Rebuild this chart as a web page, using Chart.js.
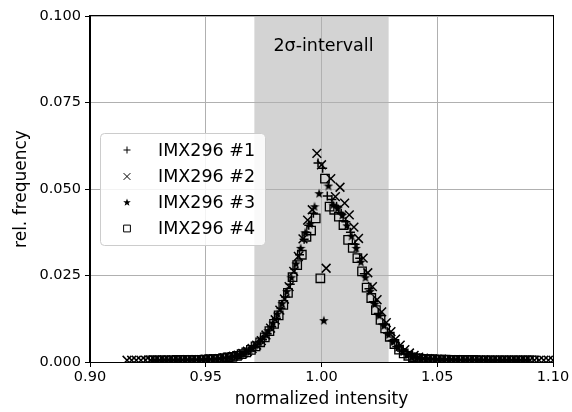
<!DOCTYPE html>
<html>
<head>
<meta charset="utf-8">
<script src="https://cdn.jsdelivr.net/npm/chart.js@4.4.1/dist/chart.umd.min.js"></script>
<style>
  html, body { margin: 0; padding: 0; background: #fff; }
  #wrap { width: 572px; height: 412px; }
</style>
</head>
<body>
<div id="wrap"><canvas id="myChart" width="572" height="412"></canvas></div>
<script>
// values
const seriesNames = ["IMX296 #1", "IMX296 #2", "IMX296 #3", "IMX296 #4"];
const xTicks = [0.90, 0.95, 1.00, 1.05, 1.10];
const yTicks = [0.000, 0.025, 0.050, 0.075, 0.100];
const sigmaBand = [0.971, 1.029];
const bandLabel = "2σ-intervall";

const x1 = [0.9285,0.9305,0.9325,0.9345,0.9365,0.9385,0.9405,0.9425,0.9445,0.9465,
    0.9485,0.9505,0.9525,0.9545,0.9565,0.9585,0.9605,0.9625,0.9645,0.9665,
    0.9685,0.9705,0.9725,0.9745,0.9765,0.9785,0.9805,0.9825,0.9845,0.9865,
    0.9885,0.9905,0.9925,0.9945,0.9965,0.9985,1.0005,1.0025,1.0045,1.0065,
    1.0085,1.0105,1.0125,1.0145,1.0165,1.0185,1.0205,1.0225,1.0245,1.0265,
    1.0285,1.0305,1.0325,1.0345,1.0365,1.0385,1.0405,1.0425,1.0445,1.0465,
    1.0485,1.0505,1.0525,1.0545,1.0565,1.0585,1.0605,1.0625,1.0645,1.0665,
    1.0685,1.0705,1.0725,1.0745,1.0765,1.0785,1.0805,1.0825,1.0845,1.0865,1.0885];
const y1 = [0.0005,0.0005,0.0005,0.0005,0.0005,0.0006,0.0006,0.0006,0.0006,0.0006,
    0.0007,0.0008,0.0008,0.0009,0.0010,0.0012,0.0014,0.0017,0.0021,0.0026,
    0.0032,0.0041,0.0052,0.0065,0.0082,0.0102,0.0126,0.0155,0.0188,0.0225,
    0.0268,0.0310,0.0355,0.0395,0.0430,0.0575,0.0560,0.0480,0.0470,0.0450,
    0.0430,0.0405,0.0375,0.0340,0.0300,0.0255,0.0212,0.0174,0.0140,0.0110,
    0.0084,0.0062,0.0045,0.0032,0.0023,0.0017,0.0013,0.0010,0.0009,0.0008,
    0.0008,0.0007,0.0007,0.0007,0.0006,0.0006,0.0006,0.0006,0.0006,0.0006,
    0.0005,0.0005,0.0005,0.0005,0.0005,0.0005,0.0005,0.0005,0.0005,0.0005,0.0005];

const x2 = [0.916,0.918,0.920,0.922,0.924,0.926,0.928,0.930,0.932,0.934,
    0.936,0.938,0.940,0.942,0.944,0.946,0.948,0.950,0.952,0.954,
    0.956,0.958,0.960,0.962,0.964,0.966,0.968,0.970,0.972,0.974,
    0.976,0.978,0.980,0.982,0.984,0.986,0.988,0.990,0.992,0.994,
    0.996,0.998,1.000,1.002,1.004,1.006,1.008,1.010,1.012,1.014,
    1.016,1.018,1.020,1.022,1.024,1.026,1.028,1.030,1.032,1.034,
    1.036,1.038,1.040,1.042,1.044,1.046,1.048,1.050,1.052,1.054,
    1.056,1.058,1.060,1.062,1.064,1.066,1.068,1.070,1.072,1.074,
    1.076,1.078,1.080,1.082,1.084,1.086,1.088,1.090,1.092,1.094,
    1.096,1.098,1.100];
const y2 = [0.0005,0.0005,0.0005,0.0005,0.0005,0.0005,0.0005,0.0005,0.0006,0.0006,
    0.0006,0.0006,0.0006,0.0007,0.0007,0.0007,0.0007,0.0008,0.0008,0.0009,
    0.0010,0.0012,0.0014,0.0017,0.0020,0.0025,0.0031,0.0039,0.0049,0.0062,
    0.0078,0.0098,0.0122,0.0150,0.0182,0.0218,0.0262,0.0305,0.0356,0.0410,
    0.0440,0.0603,0.0570,0.0271,0.0530,0.0478,0.0505,0.0459,0.0425,0.0390,
    0.0357,0.0300,0.0258,0.0218,0.0180,0.0145,0.0114,0.0088,0.0066,0.0049,
    0.0036,0.0026,0.0019,0.0014,0.0011,0.0010,0.0009,0.0008,0.0008,0.0007,
    0.0007,0.0007,0.0006,0.0006,0.0006,0.0006,0.0006,0.0006,0.0005,0.0005,
    0.0005,0.0005,0.0005,0.0005,0.0005,0.0005,0.0005,0.0005,0.0005,0.0005,
    0.0005,0.0005,0.0005];

const x3 = [0.927,0.929,0.931,0.933,0.935,0.937,0.939,0.941,0.943,0.945,0.947,
    0.949,0.951,0.953,0.955,0.957,0.959,0.961,0.963,0.965,0.967,
    0.969,0.971,0.973,0.975,0.977,0.979,0.981,0.983,0.985,0.987,
    0.989,0.991,0.993,0.995,0.997,0.999,1.001,1.003,1.005,1.007,
    1.009,1.011,1.013,1.015,1.017,1.019,1.021,1.023,1.025,1.027,
    1.029,1.031,1.033,1.035,1.037,1.039,1.041,1.043,1.045,1.047,
    1.049,1.051,1.053,1.055,1.057,1.059,1.061,1.063,1.065,1.067,
    1.069,1.071,1.073,1.075,1.077,1.079,1.081,1.083,1.085,1.087,1.089];
const y3 = [0.0005,0.0005,0.0005,0.0005,0.0005,0.0005,0.0006,0.0006,0.0006,0.0006,0.0006,
    0.0007,0.0008,0.0008,0.0009,0.0011,0.0013,0.0015,0.0019,0.0023,0.0029,
    0.0036,0.0046,0.0058,0.0073,0.0092,0.0114,0.0140,0.0170,0.0205,0.0245,
    0.0285,0.0330,0.0375,0.0400,0.0450,0.0488,0.0121,0.0510,0.0455,0.0445,
    0.0425,0.0395,0.0365,0.0330,0.0290,0.0245,0.0205,0.0168,0.0135,0.0106,
    0.0080,0.0059,0.0043,0.0031,0.0022,0.0016,0.0012,0.0010,0.0009,0.0008,
    0.0008,0.0007,0.0007,0.0007,0.0006,0.0006,0.0006,0.0006,0.0006,0.0006,
    0.0005,0.0005,0.0005,0.0005,0.0005,0.0005,0.0005,0.0005,0.0005,0.0005,0.0005];

const x4 = [0.9255,0.9275,0.9295,0.9315,0.9335,0.9355,0.9375,0.9395,0.9415,0.9435,0.9455,0.9475,
    0.9495,0.9515,0.9535,0.9555,0.9575,
    0.9595,0.9615,0.9635,0.9655,0.9675,0.9695,0.9715,0.9735,0.9755,0.9775,
    0.9795,0.9815,0.9835,0.9855,0.9875,0.9895,0.9915,0.9935,0.9955,0.9975,
    0.9995,1.0015,1.0035,1.0055,1.0075,1.0095,1.0115,1.0135,1.0155,1.0175,
    1.0195,1.0215,1.0235,1.0255,1.0275,1.0295,1.0315,1.0335,1.0355,1.0375,
    1.0395,1.0415,1.0435,1.0455,1.0475,1.0495,1.0515,1.0535,1.0555,1.0575,
    1.0595,1.0615,1.0635,1.0655,1.0675,1.0695,1.0715,1.0735,1.0755,1.0775,
    1.0795,1.0815,1.0835,1.0855,1.0875,1.0895,1.0915];
const y4 = [0.0005,0.0005,0.0005,0.0005,0.0005,0.0005,0.0006,0.0006,0.0006,0.0006,0.0006,0.0006,
    0.0007,0.0008,0.0008,0.0009,0.0011,
    0.0013,0.0015,0.0018,0.0023,0.0028,0.0035,0.0045,0.0057,0.0071,0.0089,
    0.0110,0.0135,0.0165,0.0200,0.0245,0.0280,0.0310,0.0362,0.0380,0.0415,
    0.0242,0.0530,0.0449,0.0440,0.0420,0.0396,0.0353,0.0330,0.0300,0.0262,
    0.0215,0.0185,0.0150,0.0122,0.0097,0.0073,0.0052,0.0036,0.0025,0.0018,
    0.0013,0.0011,0.0009,0.0008,0.0008,0.0007,0.0007,0.0007,0.0006,0.0006,
    0.0006,0.0006,0.0006,0.0006,0.0005,0.0005,0.0005,0.0005,0.0005,0.0005,
    0.0005,0.0005,0.0005,0.0005,0.0005,0.0005,0.0005];

const FONT = "'DejaVu Sans', sans-serif";

// filled five point star (matplotlib "*" marker)
const makeStar = (size) => {
    const c = document.createElement("canvas");
    c.width = size;
    c.height = size;
    const g = c.getContext("2d");
    const r = size / 2, ri = r * 0.42;
    g.beginPath();
    for (let i = 0; i < 10; i++) {
        const rr = i % 2 === 0 ? r : ri;
        const a = -Math.PI / 2 + i * Math.PI / 5;
        const px = r + rr * Math.cos(a), py = r + 0.6 + rr * Math.sin(a);
        if (i === 0) g.moveTo(px, py); else g.lineTo(px, py);
    }
    g.closePath();
    g.fillStyle = "#000";
    g.fill();
    return c;
};

const pts = (xs, ys) => xs.map((x, i) => ({ x: x, y: ys[i] }));

const styles = [
    { pointStyle: "cross", pointRadius: 4.5, pointBorderWidth: 1.5, legendRadius: 3.5 },
    { pointStyle: "crossRot", pointRadius: 6.2, pointBorderWidth: 1.5, legendRadius: 4.8 },
    { pointStyle: makeStar(10), pointRadius: 5, pointBorderWidth: 1, legendStyle: makeStar(8) },
    { pointStyle: "rect", pointRadius: 6, pointBorderWidth: 1.3, legendRadius: 4.8 },
];
const xs = [x1, x2, x3, x4];
const ys = [y1, y2, y3, y4];

const datasets = seriesNames.map((name, i) => ({
    label: name,
    data: pts(xs[i], ys[i]),
    pointStyle: styles[i].pointStyle,
    pointRadius: styles[i].pointRadius,
    pointBorderWidth: styles[i].pointBorderWidth,
    pointBorderColor: "#000",
    pointBackgroundColor: "rgba(0,0,0,0)",
    order: seriesNames.length - i,
}));

const bandPlugin = {
    id: "band",
    beforeDraw(chart) {
        const ctx = chart.ctx;
        const area = chart.chartArea;
        const xs = chart.scales.x;
        ctx.save();
        ctx.fillStyle = "#fff";
        ctx.fillRect(0, 0, chart.width, chart.height);
        const a = xs.getPixelForValue(sigmaBand[0]);
        const b = xs.getPixelForValue(sigmaBand[1]);
        ctx.fillStyle = "#d3d3d3";
        ctx.fillRect(a, area.top, b - a, area.bottom - area.top);
        ctx.restore();
    },
    afterDatasetsDraw(chart) {
        const ctx = chart.ctx;
        const area = chart.chartArea;
        ctx.save();
        ctx.strokeStyle = "#000";
        ctx.lineWidth = 1;
        ctx.strokeRect(Math.round(area.left) - 0.5, Math.round(area.top) - 0.5,
            Math.round(area.right - area.left) + 1, Math.round(area.bottom - area.top) + 1);
        ctx.restore();
    },
    afterDraw(chart) {
        const ctx = chart.ctx;
        ctx.save();
        // band label
        ctx.font = "17.5px " + FONT;
        ctx.fillStyle = "#000";
        ctx.textAlign = "center";
        ctx.textBaseline = "middle";
        ctx.fillText(bandLabel, chart.scales.x.getPixelForValue(1.0) + 2, chart.scales.y.getPixelForValue(0.0912));

        // legend box
        const bx = 100.5, by = 133.5, bw = 165, bh = 112;
        ctx.beginPath();
        ctx.roundRect(bx, by, bw, bh, 4);
        ctx.fillStyle = "rgba(255,255,255,0.85)";
        ctx.fill();
        ctx.strokeStyle = "#cccccc";
        ctx.lineWidth = 1;
        ctx.stroke();
        const rows = [150, 176.5, 202, 228.5];
        ctx.font = "17.5px " + FONT;
        ctx.textAlign = "left";
        seriesNames.forEach((name, i) => {
            const st = styles[i];
            ctx.strokeStyle = "#000";
            ctx.fillStyle = "rgba(0,0,0,0)";
            Chart.helpers.drawPoint(ctx, {
                pointStyle: st.legendStyle || st.pointStyle,
                radius: st.legendRadius || 4,
                borderWidth: 1.3,
                rotation: 0,
            }, 127, rows[i]);
            ctx.fillStyle = "#000";
            ctx.fillText(name, 158, rows[i] + 1);
        });
        ctx.restore();
    },
};

new Chart(document.getElementById("myChart"), {
    type: "scatter",
    data: { datasets: datasets },
    plugins: [bandPlugin],
    options: {
        responsive: false,
        animation: false,
        layout: { padding: { top: 16, right: 19, bottom: 0, left: 0 } },
        plugins: { legend: { display: false }, tooltip: { enabled: false } },
        scales: {
            x: {
                type: "linear",
                min: 0.90,
                max: 1.10,
                afterFit: (s) => { s.height = 50; },
                afterBuildTicks: (s) => { s.ticks = xTicks.map((v) => ({ value: v })); },
                ticks: {
                    color: "#000",
                    font: { family: FONT, size: 14.5 },
                    padding: 2,
                    maxRotation: 0,
                    callback: (v) => v.toFixed(2),
                },
                grid: { color: "#b0b0b0", lineWidth: 1, tickLength: 5, tickColor: "#000" },
                border: { color: "#000", width: 1 },
                title: {
                    display: true,
                    text: "normalized intensity",
                    color: "#000",
                    font: { family: FONT, size: 17 },
                    padding: { top: 0, bottom: 2 },
                },
            },
            y: {
                type: "linear",
                min: 0,
                max: 0.1,
                afterFit: (s) => { s.width = 90; },
                afterBuildTicks: (s) => { s.ticks = yTicks.map((v) => ({ value: v })); },
                ticks: {
                    color: "#000",
                    font: { family: FONT, size: 14.5 },
                    padding: 4,
                    callback: (v) => v.toFixed(3),
                },
                grid: { color: "#b0b0b0", lineWidth: 1, tickLength: 5, tickColor: "#000" },
                border: { color: "#000", width: 1 },
                title: {
                    display: true,
                    text: "rel. frequency",
                    color: "#000",
                    font: { family: FONT, size: 17 },
                    padding: { top: 11, bottom: 0 },
                },
            },
        },
    },
});
</script>
</body>
</html>
